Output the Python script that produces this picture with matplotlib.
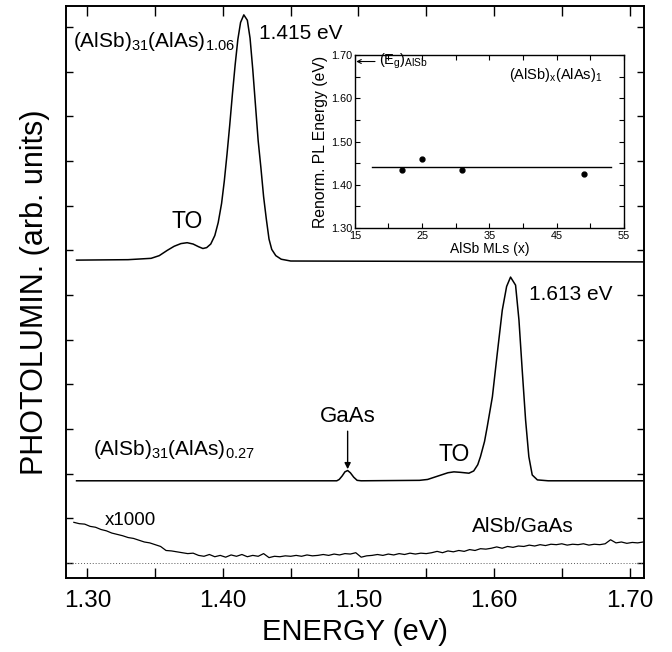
import numpy as np
import matplotlib.pyplot as plt
from matplotlib.ticker import MultipleLocator

plt.rcParams['font.family'] = ['Liberation Sans', 'DejaVu Sans']
plt.rcParams['mathtext.default'] = 'regular'

# (AlSb)31(AlAs)1.06 spectrum, offset
top_e = [1.292, 1.330, 1.347, 1.353, 1.359, 1.364, 1.369, 1.3736, 1.378, 1.382,
         1.3852, 1.388, 1.391, 1.394, 1.3965, 1.399, 1.401, 1.403, 1.405, 1.407,
         1.409, 1.411, 1.413, 1.4154, 1.418, 1.420, 1.422, 1.424, 1.426, 1.428,
         1.430, 1.432, 1.434, 1.436, 1.439, 1.443, 1.450, 1.710]
top_i = [6.78, 6.79, 6.82, 6.88, 7.00, 7.09, 7.15, 7.17, 7.14, 7.08,
         7.04, 7.06, 7.14, 7.33, 7.62, 8.05, 8.55, 9.15, 9.80, 10.50,
         11.15, 11.72, 12.10, 12.27, 12.15, 11.75, 11.05, 10.25, 9.45, 8.85,
         8.20, 7.70, 7.25, 7.02, 6.88, 6.80, 6.76, 6.74]

# (AlSb)31(AlAs)0.27 spectrum, offset
mid_e = [1.292, 1.484, 1.4858, 1.488, 1.490, 1.492, 1.494, 1.4965, 1.499, 1.502,
         1.545, 1.551, 1.556, 1.561, 1.566, 1.5704, 1.575, 1.5815, 1.585, 1.588,
         1.590, 1.593, 1.595, 1.5988, 1.6024, 1.6061, 1.6093, 1.6122, 1.6159, 1.6184,
         1.6208, 1.6233, 1.6257, 1.6282, 1.632, 1.640, 1.710]
mid_i = [1.84, 1.84, 1.87, 1.95, 2.04, 2.07, 2.02, 1.92, 1.85, 1.84,
         1.85, 1.87, 1.92, 1.97, 2.02, 2.04, 2.03, 2.01, 2.06, 2.20,
         2.38, 2.72, 3.05, 3.72, 4.69, 5.66, 6.19, 6.40, 6.22, 5.44,
         4.32, 3.20, 2.38, 1.97, 1.86, 1.84, 1.84]

# AlSb/GaAs reference x1000
bg_e = [1.290, 1.294, 1.298, 1.302, 1.306, 1.310, 1.314, 1.318, 1.322, 1.326,
        1.330, 1.334, 1.338, 1.342, 1.346, 1.350, 1.354, 1.358, 1.362, 1.366,
        1.370, 1.374, 1.378, 1.382, 1.386, 1.390, 1.394, 1.398, 1.402, 1.406,
        1.410, 1.414, 1.418, 1.422, 1.426, 1.430, 1.434, 1.438, 1.442, 1.446,
        1.450, 1.454, 1.458, 1.462, 1.466, 1.470, 1.474, 1.478, 1.482, 1.486,
        1.490, 1.494, 1.498, 1.502, 1.506, 1.510, 1.514, 1.518, 1.522, 1.526,
        1.530, 1.534, 1.538, 1.542, 1.546, 1.550, 1.554, 1.558, 1.562, 1.566,
        1.570, 1.574, 1.578, 1.582, 1.586, 1.590, 1.594, 1.598, 1.602, 1.606,
        1.610, 1.614, 1.618, 1.622, 1.626, 1.630, 1.634, 1.638, 1.642, 1.646,
        1.650, 1.654, 1.658, 1.662, 1.666, 1.670, 1.674, 1.678, 1.682, 1.686,
        1.690, 1.694, 1.698, 1.702, 1.706, 1.710]
bg_i = [0.91, 0.88, 0.87, 0.82, 0.80, 0.75, 0.72, 0.67, 0.64, 0.61,
        0.57, 0.55, 0.51, 0.47, 0.45, 0.41, 0.37, 0.28, 0.27, 0.25,
        0.23, 0.21, 0.22, 0.17, 0.15, 0.19, 0.14, 0.17, 0.13, 0.18,
        0.15, 0.19, 0.14, 0.17, 0.15, 0.21, 0.12, 0.15, 0.14, 0.16,
        0.15, 0.17, 0.15, 0.18, 0.16, 0.17, 0.19, 0.17, 0.20, 0.18,
        0.21, 0.20, 0.23, 0.13, 0.16, 0.17, 0.19, 0.17, 0.20, 0.18,
        0.21, 0.19, 0.22, 0.20, 0.22, 0.21, 0.23, 0.26, 0.23, 0.27,
        0.25, 0.28, 0.26, 0.30, 0.28, 0.32, 0.31, 0.33, 0.36, 0.33,
        0.37, 0.35, 0.38, 0.37, 0.40, 0.38, 0.41, 0.39, 0.42, 0.41,
        0.43, 0.40, 0.42, 0.41, 0.43, 0.40, 0.42, 0.41, 0.43, 0.52,
        0.45, 0.47, 0.44, 0.46, 0.45, 0.47]

# inset: renormalized PL energy vs AlSb monolayers
ml_x = [22, 25, 31, 49]
pl_e = [1.434, 1.459, 1.434, 1.426]
fit_x = [17.5, 53.0]
fit_e = [1.441, 1.441]
eg_alsb = 1.685
ins_xticks = [15, 25, 35, 45, 55]
ins_yticks = [1.30, 1.40, 1.50, 1.60, 1.70]

fig = plt.figure(figsize=(6.72, 6.52), dpi=100)
ax = fig.add_axes([0.0978, 0.1135, 0.8598, 0.8778])

ax.plot(top_e, top_i, color='black', lw=1.1)
ax.plot(mid_e, mid_i, color='black', lw=1.1)
ax.plot(bg_e, bg_i, color='black', lw=0.9)
ax.axhline(0, color='0.35', lw=0.7, ls=(0, (1, 2)))

ax.set_xlim(1.284, 1.7103)
ax.set_ylim(-0.336, 12.476)
ax.xaxis.set_minor_locator(MultipleLocator(0.05))
ax.yaxis.set_major_locator(MultipleLocator(1))
ax.set_xticks([1.30, 1.40, 1.50, 1.60, 1.70])
ax.set_xticklabels(['1.30', '1.40', '1.50', '1.60', '1.70'])
ax.tick_params(axis='x', which='both', direction='in', top=True, length=7,
               width=1.0, labelsize=17.5, pad=9)
ax.tick_params(axis='y', which='both', direction='in', right=True, length=5,
               width=1.0, labelleft=False)
for s in ax.spines.values():
    s.set_linewidth(1.4)

ax.set_xlabel('ENERGY (eV)', fontsize=21, labelpad=4)
ax.set_ylabel('PHOTOLUMIN. (arb. units)', fontsize=22, labelpad=11)

ax.text(1.2895, 11.68, r'(AlSb)$_{31}$(AlAs)$_{1.06}$', fontsize=15, va='center', ha='left')
ax.text(1.4267, 11.86, '1.415 eV', fontsize=15, va='center', ha='left')
ax.text(1.3736, 7.64, 'TO', fontsize=16.5, va='center', ha='center')
ax.text(1.626, 6.02, '1.613 eV', fontsize=15, va='center', ha='left')
ax.text(1.492, 3.27, 'GaAs', fontsize=16, va='center', ha='center')
ax.annotate('', xy=(1.492, 2.10), xytext=(1.492, 2.95),
            arrowprops=dict(arrowstyle='-|>', color='black', lw=1.0,
                            mutation_scale=9, shrinkA=0, shrinkB=0))
ax.text(1.5705, 2.42, 'TO', fontsize=16.5, va='center', ha='center')
ax.text(1.304, 2.55, r'(AlSb)$_{31}$(AlAs)$_{0.27}$', fontsize=15, va='center', ha='left')
ax.text(1.313, 0.96, 'x1000', fontsize=13.5, va='center', ha='left')
ax.text(1.5835, 0.81, 'AlSb/GaAs', fontsize=15, va='center', ha='left')

# inset
ins = fig.add_axes([0.528, 0.6503, 0.4006, 0.2653])
ins.plot(ml_x, pl_e, 'o', color='black', ms=3.5)
ins.plot(fit_x, fit_e, color='black', lw=1.0)
ins.annotate('', xy=(15.2, eg_alsb), xytext=(18.0, eg_alsb),
             arrowprops=dict(arrowstyle='->', color='black', lw=0.8,
                             shrinkA=0, shrinkB=0, mutation_scale=7))
ins.text(18.6, eg_alsb, r'(E$_g$)$_{AlSb}$', fontsize=10.5, va='center', ha='left')
ins.text(44.9, 1.654, r'(AlSb)$_x$(AlAs)$_1$', fontsize=10.5, va='center', ha='center')
ins.set_xlim(15, 55)
ins.set_ylim(1.30, 1.70)
ins.set_xticks(ins_xticks)
ins.set_xticklabels([str(v) for v in ins_xticks])
ins.xaxis.set_minor_locator(MultipleLocator(5))
ins.set_yticks(ins_yticks)
ins.set_yticklabels(['%.2f' % v for v in ins_yticks])
ins.yaxis.set_minor_locator(MultipleLocator(0.05))
ins.tick_params(which='both', direction='in', top=True, right=True, length=3.5,
                width=0.8, labelsize=7.8, pad=2)
for s in ins.spines.values():
    s.set_linewidth(1.0)
ins.set_xlabel('AlSb MLs (x)', fontsize=10, labelpad=1)
ins.set_ylabel('Renorm. PL Energy (eV)', fontsize=11.3, labelpad=2)

fig.savefig('out.png', dpi=100)
